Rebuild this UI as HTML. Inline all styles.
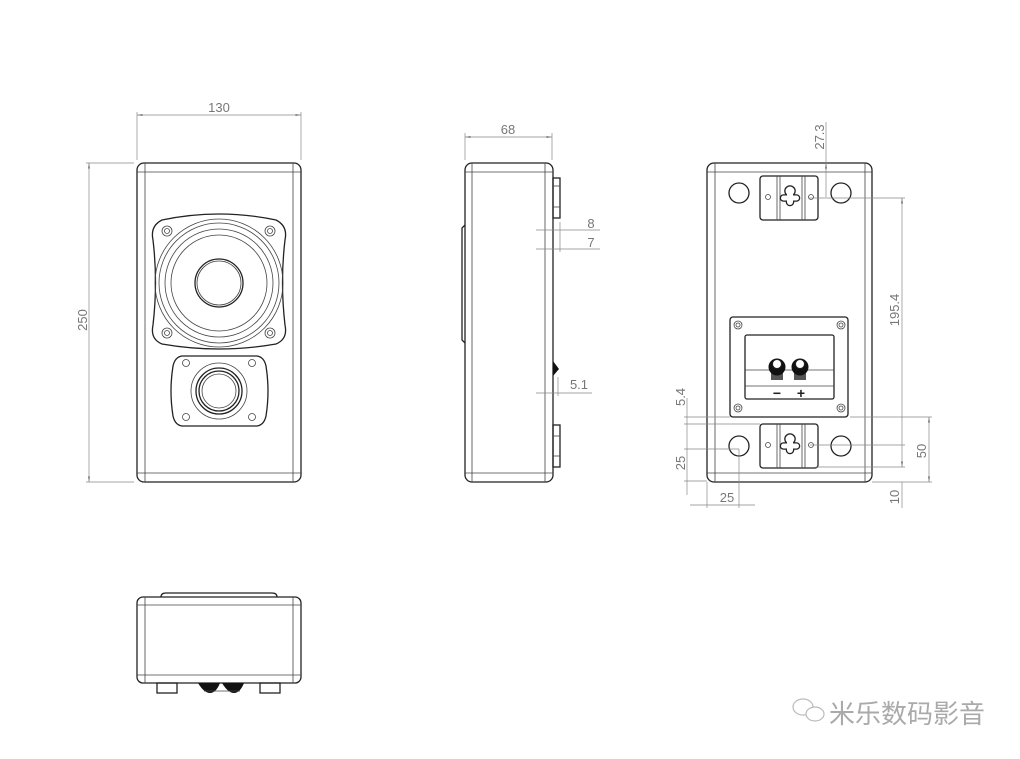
<!DOCTYPE html>
<html><head><meta charset="utf-8"><style>
html,body{margin:0;padding:0;background:#fff;}
svg{display:block}
.l{stroke:#222;stroke-width:1.3;fill:none}
.t{stroke:#444;stroke-width:0.8;fill:none}
.d{stroke:#888;stroke-width:0.7;fill:none}
.tx{font-family:"Liberation Sans",sans-serif;font-size:13px;fill:#777}
</style></head><body>
<svg width="1020" height="759" viewBox="0 0 1020 759" xmlns="http://www.w3.org/2000/svg">
<defs>
<marker id="a" markerWidth="8" markerHeight="6" refX="8" refY="3" orient="auto-start-reverse"><path d="M0,1.5 L8,3 L0,4.5z" fill="#777"/></marker>
<g id="kh">
<circle cx="0" cy="-6" r="4.5" fill="#fff" stroke="#222" stroke-width="2.6"/>
<rect x="-3" y="-6" width="6" height="14" rx="3" fill="#fff" stroke="#222" stroke-width="2.6"/>
<rect x="-9" y="-1.5" width="18" height="5" rx="2.5" fill="#fff" stroke="#222" stroke-width="2.6"/>
<circle cx="0" cy="-6" r="4.5" fill="#fff"/>
<rect x="-3" y="-6" width="6" height="14" rx="3" fill="#fff"/>
<rect x="-9" y="-1.5" width="18" height="5" rx="2.5" fill="#fff"/>
</g>
</defs>

<!-- FRONT VIEW -->
<rect x="137" y="163" width="164" height="319" rx="7" class="l"/>
<line x1="145" y1="163" x2="145" y2="482" class="t"/>
<line x1="293" y1="163" x2="293" y2="482" class="t"/>
<line x1="137" y1="172" x2="301" y2="172" class="t"/>
<line x1="137" y1="473" x2="301" y2="473" class="t"/>
<path d="M162,220 Q219,208 276,220 Q288,226 285,240 Q280,282 285,325 Q288,339 276,344 Q219,354 162,344 Q150,339 153,325 Q158,282 153,240 Q150,226 162,220z" class="l"/>
<circle cx="219" cy="283" r="64" class="t"/>
<circle cx="219" cy="283" r="60" class="t"/>
<circle cx="219" cy="283" r="54" class="t"/>
<circle cx="219" cy="283" r="48" class="t"/>
<circle cx="219" cy="283" r="24" class="l"/>
<circle cx="219" cy="283" r="22" class="t"/>
<g class="t">
<circle cx="167" cy="231" r="5"/><circle cx="167" cy="231" r="2.5"/>
<circle cx="270" cy="231" r="5"/><circle cx="270" cy="231" r="2.5"/>
<circle cx="167" cy="333" r="5"/><circle cx="167" cy="333" r="2.5"/>
<circle cx="270" cy="333" r="5"/><circle cx="270" cy="333" r="2.5"/>
</g>
<path d="M182,356 L257,356 Q264,357 266,366 Q270,391 266,416 Q264,425 257,426 L182,426 Q175,425 173,416 Q169,391 173,366 Q175,357 182,356z" class="l"/>
<circle cx="219" cy="391" r="28" class="t"/>
<circle cx="219" cy="391" r="23" class="l"/>
<circle cx="219" cy="391" r="20" class="l"/>
<circle cx="219" cy="391" r="17" class="t"/>
<g class="t">
<circle cx="186" cy="363" r="3.5"/><circle cx="252" cy="363" r="3.5"/>
<circle cx="186" cy="417" r="3.5"/><circle cx="252" cy="417" r="3.5"/>
</g>
<!-- dims front -->
<line x1="137" y1="112" x2="137" y2="160" class="d"/>
<line x1="301" y1="112" x2="301" y2="160" class="d"/>
<line x1="137" y1="115" x2="301" y2="115" class="d" marker-start="url(#a)" marker-end="url(#a)"/>
<text x="219" y="112" class="tx" text-anchor="middle">130</text>
<line x1="86" y1="163" x2="134" y2="163" class="d"/>
<line x1="86" y1="482" x2="134" y2="482" class="d"/>
<line x1="89" y1="163" x2="89" y2="482" class="d" marker-start="url(#a)" marker-end="url(#a)"/>
<text x="0" y="0" class="tx" text-anchor="middle" transform="translate(87,320) rotate(-90)">250</text>

<!-- SIDE VIEW -->
<rect x="465" y="163" width="88" height="319" rx="7" class="l"/>
<line x1="472" y1="163" x2="472" y2="482" class="t"/>
<line x1="545" y1="163" x2="545" y2="482" class="t"/>
<line x1="465" y1="172" x2="553" y2="172" class="t"/>
<line x1="465" y1="473" x2="553" y2="473" class="t"/>
<path d="M465,225 L462,228 L462,340 L465,343" class="l"/>
<rect x="553" y="178" width="7" height="40" class="l"/>
<line x1="553" y1="186" x2="560" y2="186" class="t"/><line x1="553" y1="207" x2="560" y2="207" class="t"/>
<rect x="553" y="425" width="7" height="42" class="l"/>
<line x1="553" y1="436" x2="560" y2="436" class="t"/><line x1="553" y1="456" x2="560" y2="456" class="t"/>
<path d="M553,361 L559,369 L553,376z" fill="#111"/>
<line x1="465" y1="133" x2="465" y2="160" class="d"/>
<line x1="552" y1="133" x2="552" y2="160" class="d"/>
<line x1="465" y1="137" x2="552" y2="137" class="d" marker-start="url(#a)" marker-end="url(#a)"/>
<text x="508" y="134" class="tx" text-anchor="middle">68</text>
<line x1="536" y1="230" x2="600" y2="230" class="d"/>
<line x1="536" y1="249" x2="600" y2="249" class="d"/>
<line x1="560" y1="222" x2="560" y2="252" class="d"/>
<text x="591" y="228" class="tx" text-anchor="middle">8</text>
<text x="591" y="247" class="tx" text-anchor="middle">7</text>
<line x1="536" y1="393" x2="592" y2="393" class="d"/>
<line x1="558" y1="377" x2="558" y2="396" class="d"/>
<text x="579" y="389" class="tx" text-anchor="middle">5.1</text>

<!-- BACK VIEW -->
<rect x="707" y="163" width="165" height="319" rx="7" class="l"/>
<line x1="715" y1="163" x2="715" y2="482" class="t"/>
<line x1="865" y1="163" x2="865" y2="482" class="t"/>
<line x1="707" y1="172" x2="872" y2="172" class="t"/>
<line x1="707" y1="473" x2="872" y2="473" class="t"/>
<g class="l"><circle cx="739" cy="193" r="10"/><circle cx="841" cy="193" r="10"/><circle cx="739" cy="446" r="10"/><circle cx="841" cy="446" r="10"/></g>
<g>
<rect x="760" y="176" width="58" height="44" rx="3" class="l"/>
<line x1="777" y1="176" x2="777" y2="220" class="t"/><line x1="780" y1="176" x2="780" y2="220" class="t"/>
<line x1="802" y1="176" x2="802" y2="220" class="t"/><line x1="805" y1="176" x2="805" y2="220" class="t"/>
<use href="#kh" x="790" y="197"/>
<circle cx="768" cy="197" r="2.5" class="t"/><circle cx="811" cy="197" r="2.5" class="t"/>
</g>
<g>
<rect x="760" y="424" width="58" height="44" rx="3" class="l"/>
<line x1="777" y1="424" x2="777" y2="468" class="t"/><line x1="780" y1="424" x2="780" y2="468" class="t"/>
<line x1="802" y1="424" x2="802" y2="468" class="t"/><line x1="805" y1="424" x2="805" y2="468" class="t"/>
<use href="#kh" x="790" y="445"/>
<circle cx="768" cy="445" r="2.5" class="t"/><circle cx="811" cy="445" r="2.5" class="t"/>
</g>
<rect x="730" y="317" width="118" height="100" rx="3" class="l" stroke-width="1.8"/>
<rect x="745" y="335" width="89" height="64" rx="2" class="l"/>
<line x1="745" y1="370" x2="834" y2="370" class="t"/>
<line x1="745" y1="386" x2="834" y2="386" class="t"/>
<g class="t"><circle cx="738" cy="325" r="4"/><circle cx="738" cy="325" r="2"/><circle cx="841" cy="325" r="4"/><circle cx="841" cy="325" r="2"/>
<circle cx="738" cy="408" r="4"/><circle cx="738" cy="408" r="2"/><circle cx="841" cy="408" r="4"/><circle cx="841" cy="408" r="2"/></g>
<rect x="771" y="372" width="12" height="8" fill="#555"/>
<rect x="794" y="372" width="12" height="8" fill="#555"/>
<circle cx="777" cy="367" r="8.5" fill="#111"/><circle cx="777" cy="364" r="4.5" fill="#fff" stroke="#222"/>
<circle cx="800" cy="367" r="8.5" fill="#111"/><circle cx="800" cy="364" r="4.5" fill="#fff" stroke="#222"/>
<text x="777" y="398" font-family="Liberation Sans,sans-serif" font-size="14" font-weight="bold" text-anchor="middle" fill="#222">−</text>
<text x="801" y="398" font-family="Liberation Sans,sans-serif" font-size="14" font-weight="bold" text-anchor="middle" fill="#222">+</text>
<!-- back dims -->
<line x1="826" y1="122" x2="826" y2="197" class="d"/>
<line x1="826" y1="170" x2="826" y2="163" class="d" marker-end="url(#a)"/>
<text x="0" y="0" class="tx" text-anchor="middle" transform="translate(824,137) rotate(-90)">27.3</text>
<line x1="808" y1="198" x2="905" y2="198" class="d"/>
<line x1="810" y1="445" x2="905" y2="445" class="d"/>
<line x1="816" y1="467" x2="905" y2="467" class="d"/>
<line x1="902" y1="198" x2="902" y2="467" class="d" marker-start="url(#a)" marker-end="url(#a)"/>
<text x="0" y="0" class="tx" text-anchor="middle" transform="translate(899,310) rotate(-90)">195.4</text>
<line x1="850" y1="417" x2="932" y2="417" class="d"/>
<line x1="872" y1="482" x2="932" y2="482" class="d"/>
<line x1="929" y1="417" x2="929" y2="482" class="d" marker-start="url(#a)" marker-end="url(#a)"/>
<text x="0" y="0" class="tx" text-anchor="middle" transform="translate(926,451) rotate(-90)">50</text>
<line x1="902" y1="482" x2="902" y2="508" class="d"/>
<text x="0" y="0" class="tx" text-anchor="middle" transform="translate(899,497) rotate(-90)">10</text>
<line x1="684" y1="417" x2="730" y2="417" class="d"/>
<line x1="684" y1="424" x2="760" y2="424" class="d"/>
<line x1="684" y1="449" x2="739" y2="449" class="d"/>
<line x1="684" y1="481" x2="707" y2="481" class="d"/>
<line x1="687" y1="398" x2="687" y2="495" class="d"/>
<text x="0" y="0" class="tx" text-anchor="middle" transform="translate(685,397) rotate(-90)">5.4</text>
<text x="0" y="0" class="tx" text-anchor="middle" transform="translate(685,463) rotate(-90)">25</text>
<line x1="707" y1="482" x2="707" y2="508" class="d"/>
<line x1="739" y1="449" x2="739" y2="508" class="d"/>
<line x1="690" y1="505" x2="755" y2="505" class="d"/>
<text x="727" y="502" class="tx" text-anchor="middle">25</text>

<!-- BOTTOM VIEW -->
<path d="M161,597 Q161,593 166,593 L272,593 Q277,593 277,597" class="l"/>
<rect x="137" y="597" width="164" height="86" rx="6" class="l"/>
<line x1="145" y1="597" x2="145" y2="683" class="t"/>
<line x1="293" y1="597" x2="293" y2="683" class="t"/>
<line x1="137" y1="605" x2="301" y2="605" class="t"/>
<line x1="137" y1="675" x2="301" y2="675" class="t"/>
<rect x="157" y="683" width="20" height="10" class="l"/>
<rect x="260" y="683" width="20" height="10" class="l"/>
<path d="M198,683 Q204,693 210,693 Q216,693 220,683z" fill="#111"/>
<path d="M222,683 Q228,693 234,693 Q240,693 244,683z" fill="#111"/>
<line x1="204" y1="691" x2="240" y2="691" class="t"/>

<!-- watermark -->
<g stroke="#bbb" fill="none" stroke-width="1.2">
<ellipse cx="803" cy="707" rx="10" ry="8"/>
<ellipse cx="815" cy="714" rx="9" ry="7" fill="#fff"/>
</g>
<text x="829" y="723" font-family="'Noto Sans CJK SC',sans-serif" font-size="26" fill="#aaa">米乐数码影音</text>
</svg>
</body></html>
